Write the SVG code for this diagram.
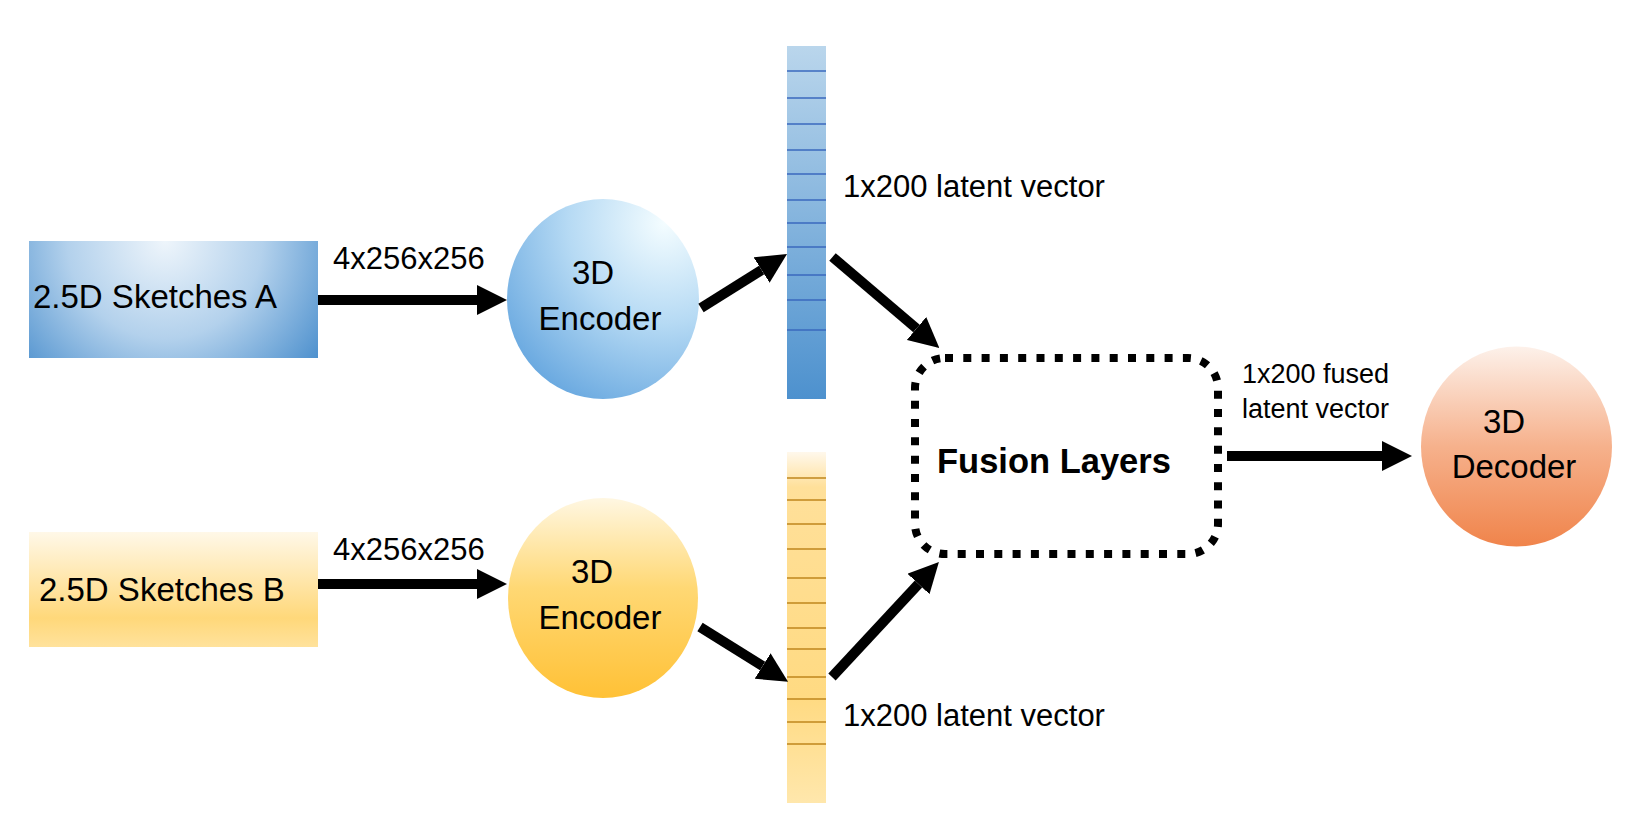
<svg xmlns="http://www.w3.org/2000/svg" width="1646" height="840" viewBox="0 0 1646 840">
<style>
text{font-family:"Liberation Sans",Arial,sans-serif;fill:#000}
.lbl{font-size:33px}
.mid{text-anchor:middle}
.small{font-size:31px}
.tiny{font-size:27px}
.conn{stroke:#000;stroke-width:10;fill:none;marker-end:url(#ah)}
.la{stroke:#3A68BE;stroke-width:1.5}
.lb{stroke:#BF861C;stroke-width:1.5}
</style>
<defs>
<marker id="ah" viewBox="0 0 30 30" refX="0" refY="15" markerWidth="30" markerHeight="30" markerUnits="userSpaceOnUse" orient="auto">
<path d="M0,0 L30,15 L0,30 z" fill="#000"/>
</marker>
<radialGradient id="gRectA" gradientUnits="userSpaceOnUse" cx="165" cy="241" r="195">
<stop offset="0" stop-color="#EEF5FB"/>
<stop offset="0.5" stop-color="#B3D1EC"/>
<stop offset="1" stop-color="#4B8FCD"/>
</radialGradient>
<radialGradient id="gEncA" cx="0.82" cy="0.12" r="1.0">
<stop offset="0" stop-color="#F4FDFF"/>
<stop offset="0.5" stop-color="#B6DAF4"/>
<stop offset="1" stop-color="#6AA9E0"/>
</radialGradient>
<linearGradient id="gBarA" x1="0" y1="0" x2="0" y2="1">
<stop offset="0" stop-color="#BAD6EC"/>
<stop offset="1" stop-color="#4D91CE"/>
</linearGradient>
<linearGradient id="gRectB" x1="0" y1="0" x2="0" y2="1">
<stop offset="0" stop-color="#FFF8E8"/>
<stop offset="0.75" stop-color="#FFD87A"/>
<stop offset="1" stop-color="#FFE29C"/>
</linearGradient>
<linearGradient id="gEncB" x1="0" y1="0" x2="0" y2="1">
<stop offset="0" stop-color="#FFF7E2"/>
<stop offset="0.45" stop-color="#FFD874"/>
<stop offset="1" stop-color="#FFC136"/>
</linearGradient>
<linearGradient id="gBarB" x1="0" y1="0" x2="0" y2="1">
<stop offset="0" stop-color="#FFF8EC"/>
<stop offset="0.1" stop-color="#FFE09A"/>
<stop offset="0.7" stop-color="#FFDA82"/>
<stop offset="1" stop-color="#FFE7AC"/>
</linearGradient>
<linearGradient id="gDec" x1="0" y1="0" x2="0" y2="1">
<stop offset="0" stop-color="#FDF1EA"/>
<stop offset="0.5" stop-color="#F6B18C"/>
<stop offset="1" stop-color="#F0844B"/>
</linearGradient>
</defs>

<g id="sketchesA">
<rect x="29" y="241" width="289" height="117" fill="url(#gRectA)"/>
<text class="lbl" x="33" y="308">2.5D Sketches A</text>
</g>
<g id="sketchesB">
<rect x="29" y="532" width="289" height="115" fill="url(#gRectB)"/>
<text class="lbl" x="39" y="601">2.5D Sketches B</text>
</g>
<g id="encoderA">
<ellipse cx="603" cy="299" rx="96" ry="100" fill="url(#gEncA)"/>
<text class="lbl mid" x="593" y="284">3D</text>
<text class="lbl mid" x="600" y="330">Encoder</text>
</g>
<g id="encoderB">
<ellipse cx="603" cy="598" rx="95" ry="100" fill="url(#gEncB)"/>
<text class="lbl mid" x="592" y="583">3D</text>
<text class="lbl mid" x="600" y="629">Encoder</text>
</g>
<g id="latentA">
<rect x="787" y="46" width="39" height="353" fill="url(#gBarA)"/>
<g class="la">
<line x1="787" y1="71" x2="826" y2="71"/>
<line x1="787" y1="98" x2="826" y2="98"/>
<line x1="787" y1="124" x2="826" y2="124"/>
<line x1="787" y1="150" x2="826" y2="150"/>
<line x1="787" y1="174" x2="826" y2="174"/>
<line x1="787" y1="200" x2="826" y2="200"/>
<line x1="787" y1="223" x2="826" y2="223"/>
<line x1="787" y1="247" x2="826" y2="247"/>
<line x1="787" y1="275" x2="826" y2="275"/>
<line x1="787" y1="300" x2="826" y2="300"/>
<line x1="787" y1="330" x2="826" y2="330"/>
</g>
<text class="small" x="843" y="197">1x200 latent vector</text>
</g>
<g id="latentB">
<rect x="787" y="452" width="39" height="351" fill="url(#gBarB)"/>
<g class="lb">
<line x1="787" y1="478" x2="826" y2="478"/>
<line x1="787" y1="500" x2="826" y2="500"/>
<line x1="787" y1="524" x2="826" y2="524"/>
<line x1="787" y1="549" x2="826" y2="549"/>
<line x1="787" y1="578" x2="826" y2="578"/>
<line x1="787" y1="603" x2="826" y2="603"/>
<line x1="787" y1="628" x2="826" y2="628"/>
<line x1="787" y1="649" x2="826" y2="649"/>
<line x1="787" y1="677" x2="826" y2="677"/>
<line x1="787" y1="699" x2="826" y2="699"/>
<line x1="787" y1="722" x2="826" y2="722"/>
<line x1="787" y1="744" x2="826" y2="744"/>
</g>
<text class="small" x="843" y="726">1x200 latent vector</text>
</g>
<g id="fusion">
<rect x="915" y="358" width="303" height="196" rx="30" ry="30" fill="none" stroke="#000" stroke-width="8" stroke-dasharray="8 10.3"/>
<text x="937" y="473" style="font-size:34.5px;font-weight:bold">Fusion Layers</text>
</g>
<g id="decoder">
<ellipse cx="1516.5" cy="446.5" rx="95.5" ry="100" fill="url(#gDec)"/>
<text class="lbl mid" x="1504" y="433">3D</text>
<text class="lbl mid" x="1514" y="478">Decoder</text>
</g>

<g id="connectors">
<line class="conn" x1="318" y1="300" x2="477" y2="300"/>
<text class="small" x="333" y="269">4x256x256</text>
<line class="conn" x1="318" y1="584" x2="477" y2="584"/>
<text class="small" x="333" y="560">4x256x256</text>
<line class="conn" x1="701" y1="308" x2="761.6" y2="270"/>
<line class="conn" x1="700" y1="627" x2="762.6" y2="666"/>
<line class="conn" x1="832.5" y1="257" x2="916.5" y2="328.5"/>
<line class="conn" x1="832" y1="677" x2="918.5" y2="584"/>
<line class="conn" x1="1227" y1="456" x2="1382" y2="456"/>
<text class="tiny" x="1242" y="383">1x200 fused</text>
<text class="tiny" x="1242" y="418">latent vector</text>
</g>
</svg>
